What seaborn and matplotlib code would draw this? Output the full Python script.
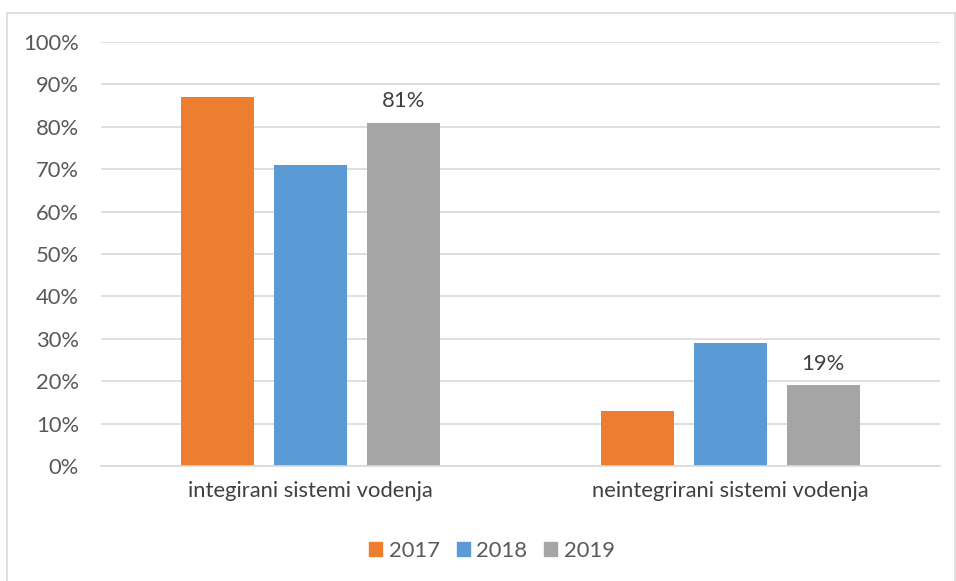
import pandas as pd
import matplotlib.pyplot as plt
import seaborn as sns
from matplotlib.patches import Rectangle

# podatki z grafa
kategorije = ["integirani sistemi vodenja", "neintegrirani sistemi vodenja"]
leta = ["2017", "2018", "2019"]
vrednosti_2017 = [87, 13]
vrednosti_2018 = [71, 29]
vrednosti_2019 = [81, 19]
barve = ["#ED7D31", "#5B9BD5", "#A5A5A5"]

df = pd.DataFrame({
    "kategorija": kategorije * 3,
    "leto": [leta[0]] * 2 + [leta[1]] * 2 + [leta[2]] * 2,
    "delez": vrednosti_2017 + vrednosti_2018 + vrednosti_2019,
})

sns.set_theme(style="white")
plt.rcParams["font.family"] = ["Lato", "DejaVu Sans"]
fs = 15.8

fig = plt.figure(figsize=(9.56, 5.81), dpi=100)
ax = fig.add_axes([0.1057, 0.1979, 0.8776, 0.7298])

sns.barplot(data=df, x="kategorija", y="delez", hue="leto",
            palette=barve, width=0.665, gap=0.215, ax=ax, legend=False,
            saturation=1, linewidth=0)

ax.set_ylim(0, 100)
ax.set_xlim(-0.5, 1.5)
ax.set_yticks(range(0, 101, 10))
ax.set_yticklabels([f"{v}%" for v in range(0, 101, 10)])
ax.yaxis.grid(True, color="#D9D9D9", linewidth=1.2)
ax.set_axisbelow(True)
for s in ["top", "right", "left"]:
    ax.spines[s].set_visible(False)
ax.spines["bottom"].set_color("#D9D9D9")
ax.spines["bottom"].set_linewidth(1.2)
ax.tick_params(axis="y", labelsize=fs, colors="#595959", length=0, pad=16)
ax.tick_params(axis="x", labelsize=fs, colors="#404040", length=0, pad=11)
ax.set_xlabel("")
ax.set_ylabel("")

# oznake samo za 2019
zadnji = ax.containers[-1]
ax.bar_label(zadnji, labels=[f"{v}%" for v in vrednosti_2019],
             padding=8, fontsize=fs, color="#404040")

# legenda
roc = [Rectangle((0, 0), 1, 1, color=c) for c in barve]
fig.legend(roc, leta, loc="center", bbox_to_anchor=(0.5146, 0.052), ncol=3,
           frameon=False, fontsize=fs, handlelength=0.6, handleheight=0.6,
           handletextpad=0.3, columnspacing=0.75, labelcolor="#595959")

# okvir grafa
fig.patches.append(Rectangle((7 / 956, -0.01), 948 / 956, 1 - 13 / 581 + 0.01,
                             transform=fig.transFigure, fill=False,
                             edgecolor="#D9D9D9", linewidth=1.2))

fig.savefig("out.png", dpi=100)
